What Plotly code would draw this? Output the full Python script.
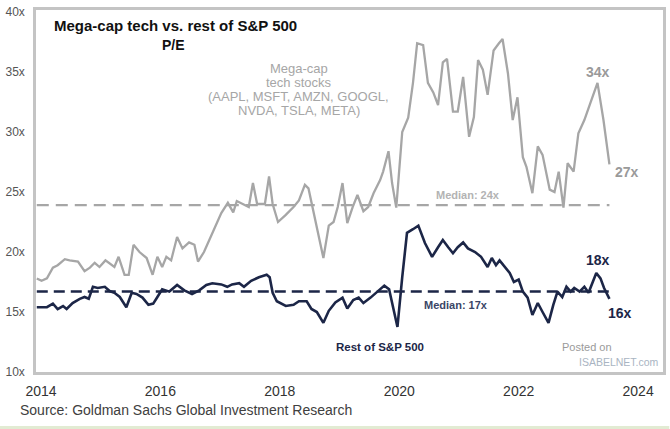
import plotly.graph_objects as go

# ---- data (decimal years, P/E multiples) ----
mega_years = [2013.93, 2014.01, 2014.10, 2014.20, 2014.28, 2014.40, 2014.48, 2014.62, 2014.73, 2014.82,
              2014.90, 2014.98, 2015.08, 2015.18, 2015.23, 2015.30, 2015.40, 2015.47, 2015.55, 2015.65,
              2015.77, 2015.87, 2015.95, 2016.03, 2016.10, 2016.18, 2016.28, 2016.37, 2016.48, 2016.57,
              2016.63, 2016.73, 2016.87, 2017.02, 2017.13, 2017.22, 2017.28, 2017.37, 2017.48, 2017.55,
              2017.62, 2017.75, 2017.82, 2017.88, 2017.97, 2018.10, 2018.23, 2018.32, 2018.42, 2018.48,
              2018.60, 2018.73, 2018.82, 2018.90, 2018.97, 2019.05, 2019.13, 2019.22, 2019.30, 2019.40,
              2019.48, 2019.57, 2019.68, 2019.73, 2019.82, 2019.88, 2019.95, 2020.05, 2020.15, 2020.23,
              2020.30, 2020.40, 2020.48, 2020.57, 2020.65, 2020.73, 2020.80, 2020.90, 2020.98, 2021.07,
              2021.17, 2021.25, 2021.32, 2021.40, 2021.48, 2021.58, 2021.67, 2021.73, 2021.82, 2021.90,
              2021.98, 2022.07, 2022.13, 2022.23, 2022.32, 2022.40, 2022.52, 2022.60, 2022.67, 2022.75,
              2022.82, 2022.92, 2023.00, 2023.10, 2023.20, 2023.32, 2023.42, 2023.52]
mega_pe = [17.8, 17.6, 17.8, 18.7, 18.9, 19.4, 19.3, 19.2, 18.4, 18.7,
           19.1, 18.75, 19.3, 18.9, 18.75, 19.6, 18.1, 18.1, 20.6, 20.0,
           19.5, 18.1, 19.6, 18.75, 19.6, 19.3, 21.25, 20.3, 20.8, 20.6,
           19.2, 20.0, 21.6, 23.25, 24.1, 23.3, 24.25, 24.0, 23.75, 25.75,
           24.0, 24.0, 26.3, 24.0, 22.5, 23.1, 23.75, 24.3, 25.6, 25.3,
           22.4, 19.5, 22.2, 22.5, 23.75, 25.75, 22.4, 23.75, 24.75, 23.4,
           23.75, 24.9, 26.0, 26.7, 28.4, 25.75, 23.7, 30.0, 31.2, 34.1,
           37.4, 37.25, 34.1, 33.3, 32.25, 35.8, 36.1, 31.7, 31.7, 34.6,
           29.6, 31.25, 36.0, 35.2, 33.1, 36.8, 37.4, 37.75, 34.9, 31.0,
           32.9, 27.9, 27.1, 24.9, 28.8, 28.1, 25.2, 25.0, 26.7, 23.7,
           27.4, 26.7, 29.9, 31.0, 32.4, 34.1, 31.0, 27.3]

rest_years = [2013.93, 2014.10, 2014.20, 2014.28, 2014.37, 2014.43, 2014.53, 2014.65, 2014.73, 2014.80,
              2014.87, 2014.95, 2015.07, 2015.15, 2015.23, 2015.32, 2015.43, 2015.52, 2015.60, 2015.70,
              2015.80, 2015.88, 2015.95, 2016.03, 2016.15, 2016.28, 2016.40, 2016.53, 2016.65, 2016.77,
              2016.87, 2017.02, 2017.12, 2017.20, 2017.32, 2017.40, 2017.52, 2017.65, 2017.78, 2017.83,
              2017.88, 2017.95, 2018.10, 2018.23, 2018.32, 2018.45, 2018.53, 2018.62, 2018.73, 2018.82,
              2018.93, 2019.05, 2019.13, 2019.23, 2019.32, 2019.40, 2019.52, 2019.62, 2019.75, 2019.83,
              2019.90, 2019.97, 2020.05, 2020.13, 2020.23, 2020.32, 2020.43, 2020.55, 2020.65, 2020.73,
              2020.82, 2020.90, 2020.98, 2021.07, 2021.15, 2021.27, 2021.37, 2021.48, 2021.55, 2021.62,
              2021.68, 2021.77, 2021.85, 2021.92, 2022.00, 2022.07, 2022.15, 2022.23, 2022.32, 2022.40,
              2022.50, 2022.58, 2022.65, 2022.73, 2022.80, 2022.87, 2022.93, 2023.02, 2023.10, 2023.17,
              2023.23, 2023.30, 2023.37, 2023.43, 2023.52]
rest_pe = [15.4, 15.4, 15.7, 15.25, 15.5, 15.25, 15.75, 16.1, 16.25, 16.1,
           17.1, 17.0, 17.1, 16.75, 16.6, 16.25, 15.4, 16.6, 16.5, 16.2,
           15.6, 15.7, 16.25, 16.9, 16.7, 17.25, 16.8, 16.5, 16.8, 17.25,
           17.4, 17.3, 17.1, 17.3, 17.4, 17.1, 17.6, 17.9, 18.1, 17.9,
           16.6, 15.9, 15.5, 15.6, 15.9, 15.9, 15.25, 15.0, 14.1, 15.1,
           15.8, 16.2, 15.3, 16.0, 16.2, 15.75, 16.2, 16.6, 17.2, 16.9,
           15.4, 13.75, 17.9, 21.6, 21.9, 22.2, 20.75, 19.6, 20.4, 21.0,
           20.4, 19.9, 20.4, 20.8, 20.3, 20.0, 19.6, 18.75, 19.5, 18.9,
           19.3, 18.7, 18.25, 17.5, 17.7, 16.7, 16.2, 14.75, 15.75, 15.0,
           14.1, 15.6, 16.7, 16.25, 17.1, 16.7, 17.0, 16.7, 17.1, 16.6,
           17.4, 18.25, 17.8, 17.0, 16.1]

mega_median = 23.9
rest_median = 16.7

x_ticks = [2014, 2016, 2018, 2020, 2022, 2024]
y_ticks = [10, 15, 20, 25, 30, 35, 40]
y_tick_labels = [f"{v}x" for v in y_ticks]

mega_label_lines = ["Mega-cap", "tech stocks", "(AAPL, MSFT, AMZN, GOOGL,", "NVDA, TSLA, META)"]

GRAY = "#a6a6a6"
NAVY = "#1c2647"
FONT = "Liberation Sans, Arial, sans-serif"

fig = go.Figure()
fig.add_trace(go.Scatter(x=[mega_years[0], mega_years[-1]], y=[mega_median, mega_median],
                         mode="lines", line=dict(color=GRAY, width=2.2, dash="12px,7px"),
                         hoverinfo="skip"))
fig.add_trace(go.Scatter(x=[rest_years[0], rest_years[-1]], y=[rest_median, rest_median],
                         mode="lines", line=dict(color=NAVY, width=2.5, dash="11px,6px"),
                         hoverinfo="skip"))
fig.add_trace(go.Scatter(x=mega_years, y=mega_pe, mode="lines",
                         line=dict(color=GRAY, width=2.3)))
fig.add_trace(go.Scatter(x=rest_years, y=rest_pe, mode="lines",
                         line=dict(color=NAVY, width=2.6)))

ann = []
def add(text, x, y, size, color, bold=False, xanchor="center", yanchor="middle",
        xref="x", yref="y", align="center"):
    ann.append(dict(text=f"<b>{text}</b>" if bold else text, x=x, y=y, xref=xref, yref=yref,
                    showarrow=False, xanchor=xanchor, yanchor=yanchor, align=align,
                    font=dict(family=FONT, size=size, color=color)))

add("Mega-cap tech vs. rest of S&P 500", 2016.25, 38.9, 15, "#111111", bold=True)
add("P/E", 2016.22, 37.25, 14, "#111111", bold=True)
for i, line in enumerate(mega_label_lines):
    add(line, 2018.32, 35.33 - i * 1.167, 13, GRAY)
add("34x", 2023.33, 35.0, 14, "#9a9a9a", bold=True)
add("27x", 2023.82, 26.67, 14, "#9a9a9a", bold=True)
add("Median: 24x", 2021.15, 24.75, 11, "#b3b3b3", bold=True)
add("Median: 17x", 2020.95, 15.58, 11, "#3a4566", bold=True)
add("18x", 2023.33, 19.33, 14, NAVY, bold=True)
add("16x", 2023.7, 14.9, 14, NAVY, bold=True)
add("Rest of S&P 500", 2019.68, 12.08, 11.5, NAVY, bold=True)
add("Posted on", 2023.15, 12.08, 11, "#9a9a9a")
add("ISABELNET.com", 2024.38, 10.8, 10.5, "#a9b4c2", xanchor="right")
add("Source: Goldman Sachs Global Investment Research", -0.029, -0.105, 14, "#404040",
    xanchor="left", xref="paper", yref="paper")
fig.update_layout(annotations=ann)

# pale green strip along the bottom edge of the image
fig.add_shape(type="rect", xref="paper", yref="paper", x0=-0.06, x1=1.01,
              y0=(372 - 430) / 362, y1=(372 - 426) / 362,
              fillcolor="#e2ebd3", line=dict(width=0), layer="below")

fig.update_layout(
    width=670, height=429,
    margin=dict(l=36, r=4, t=10, b=57),
    paper_bgcolor="white", plot_bgcolor="white",
    showlegend=False,
    xaxis=dict(range=[2013.917, 2024.417], tickvals=x_ticks, ticktext=[str(t) for t in x_ticks],
               showgrid=False, zeroline=False, showline=True, linecolor="#c4c4c4", linewidth=2.5,
               mirror=True, ticks="", tickfont=dict(family=FONT, size=14, color="#333333"),
               ticklabelstandoff=4),
    yaxis=dict(range=[10, 40.17], tickvals=y_ticks, ticktext=y_tick_labels,
               showgrid=False, zeroline=False, showline=True, linecolor="#c4c4c4", linewidth=2.5,
               mirror=True, ticks="", tickfont=dict(family=FONT, size=12, color="#555555"),
               ticklabelstandoff=6),
)

fig.write_html("out.html", config={"displayModeBar": False},
               post_script="document.body.style.margin='0';")
